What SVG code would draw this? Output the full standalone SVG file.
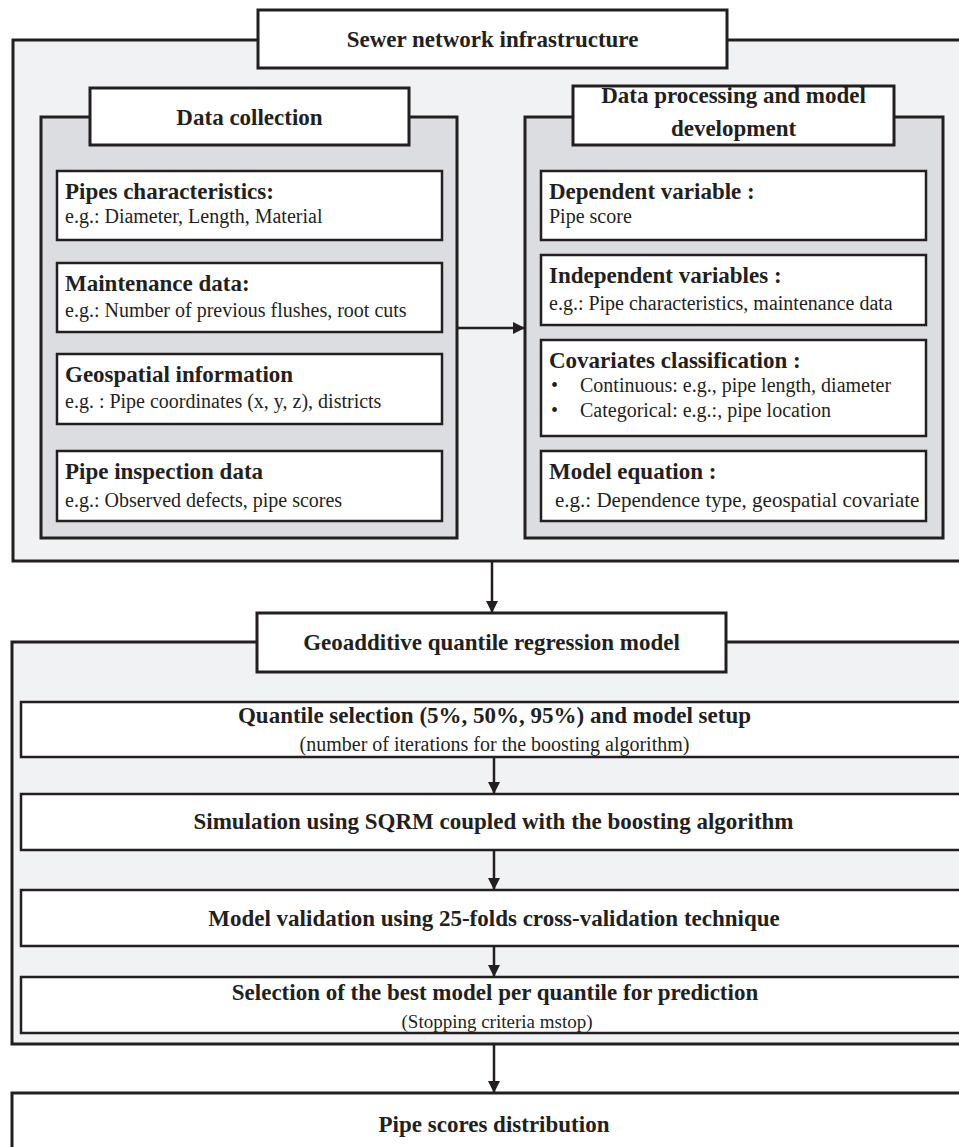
<svg xmlns="http://www.w3.org/2000/svg" width="959" height="1147" viewBox="0 0 959 1147">
<defs>
<style>
.outer{fill:#f1f2f4;stroke:#231f20;stroke-width:3}
.inner{fill:#dcdde0;stroke:#231f20;stroke-width:3}
.box{fill:#ffffff;stroke:#231f20;stroke-width:2.5}
.tbox{fill:#ffffff;stroke:#231f20;stroke-width:3}
text{font-family:"Liberation Serif","Times New Roman",serif;fill:#231f20}
.b{font-weight:bold;font-size:23px}
.r{font-size:20px}
.c{text-anchor:middle}
.conn{stroke:#231f20;stroke-width:2.5;fill:none}
</style>
<marker id="ah" viewBox="0 0 10 10" refX="10" refY="5" markerWidth="12" markerHeight="12" markerUnits="userSpaceOnUse" orient="auto">
<path d="M0,0 L10,5 L0,10 z" fill="#231f20"/>
</marker>
</defs>
<rect width="959" height="1147" fill="#ffffff"/>

<g id="sewer-network">
<rect class="outer" x="13" y="40" width="960" height="521"/>
<rect class="tbox" x="258" y="10" width="469" height="58"/>
<text class="b c" x="492.5" y="47">Sewer network infrastructure</text>
</g>

<g id="data-collection">
<rect class="inner" x="41" y="117" width="416" height="421"/>
<rect class="tbox" x="90" y="88" width="319" height="57"/>
<text class="b c" x="249.5" y="125">Data collection</text>
</g>

<g id="pipes-characteristics">
<rect class="box" x="57" y="171" width="385" height="69"/>
<text class="b" x="65" y="199">Pipes characteristics:</text>
<text class="r" x="65" y="223">e.g.: Diameter, Length, Material</text>
</g>

<g id="maintenance-data">
<rect class="box" x="57" y="263" width="385" height="69"/>
<text class="b" x="65" y="291">Maintenance data:</text>
<text class="r" x="65" y="317">e.g.: Number of previous flushes, root cuts</text>
</g>

<g id="geospatial-information">
<rect class="box" x="57" y="354" width="385" height="70"/>
<text class="b" x="65" y="382">Geospatial information</text>
<text class="r" x="65" y="408">e.g. : Pipe coordinates (x, y, z), districts</text>
</g>

<g id="pipe-inspection-data">
<rect class="box" x="57" y="451" width="385" height="70"/>
<text class="b" x="65" y="479">Pipe inspection data</text>
<text class="r" x="65" y="507">e.g.: Observed defects,  pipe scores</text>
</g>

<g id="data-processing">
<rect class="inner" x="525" y="117" width="418" height="421"/>
<rect class="tbox" x="573" y="86" width="321" height="59"/>
<text class="b c" x="733.5" y="103">Data processing and model</text>
<text class="b c" x="733.5" y="136">development</text>
</g>

<g id="dependent-variable">
<rect class="box" x="541" y="171" width="385" height="69"/>
<text class="b" x="549" y="199">Dependent variable :</text>
<text class="r" x="549" y="223">Pipe score</text>
</g>

<g id="independent-variables">
<rect class="box" x="541" y="255" width="385" height="70"/>
<text class="b" x="549" y="283">Independent variables :</text>
<text class="r" x="549" y="310">e.g.: Pipe characteristics, maintenance data</text>
</g>

<g id="covariates-classification">
<rect class="box" x="541" y="340" width="385" height="96"/>
<text class="b" x="549" y="368">Covariates classification :</text>
<text class="r" x="551" y="392">•</text>
<text class="r" x="580" y="392">Continuous: e.g., pipe length, diameter</text>
<text class="r" x="551" y="417">•</text>
<text class="r" x="580" y="417">Categorical: e.g.:, pipe location</text>
</g>

<g id="model-equation">
<rect class="box" x="541" y="451" width="385" height="70"/>
<text class="b" x="549" y="479">Model equation :</text>
<text class="r" x="555" y="507" style="font-size:21px">e.g.: Dependence type, geospatial covariate</text>
</g>

<g id="geoadditive-model">
<rect class="outer" x="12" y="642" width="960" height="402"/>
<rect class="tbox" x="257" y="613" width="469" height="59"/>
<text class="b c" x="491.5" y="650">Geoadditive quantile regression model</text>
</g>

<g id="quantile-selection">
<rect class="box" x="21" y="702" width="950" height="55"/>
<text class="b c" x="494.5" y="723">Quantile selection (5%, 50%, 95%) and model setup</text>
<text class="r c" x="494.5" y="751">(number of iterations for the boosting algorithm)</text>
</g>

<g id="simulation">
<rect class="box" x="21" y="794" width="950" height="56"/>
<text class="b c" x="493.5" y="829">Simulation using SQRM coupled with the boosting algorithm</text>
</g>

<g id="model-validation">
<rect class="box" x="21" y="890" width="950" height="56"/>
<text class="b c" x="494" y="926">Model validation using 25-folds cross-validation technique</text>
</g>

<g id="best-model-selection">
<rect class="box" x="21" y="977" width="950" height="56"/>
<text class="b c" x="495" y="1000">Selection of the best model per quantile for prediction</text>
<text class="r c" x="497" y="1028" style="font-size:19px">(Stopping criteria mstop)</text>
</g>

<g id="pipe-scores-distribution">
<rect class="tbox" x="12" y="1093" width="960" height="70"/>
<text class="b c" x="494" y="1132">Pipe scores distribution</text>
</g>

<g id="connectors">
<line class="conn" x1="457" y1="328" x2="525" y2="328" marker-end="url(#ah)"/>
<line class="conn" x1="492" y1="562" x2="492" y2="613" marker-end="url(#ah)"/>
<line class="conn" x1="494" y1="757" x2="494" y2="794" marker-end="url(#ah)"/>
<line class="conn" x1="494" y1="850" x2="494" y2="890" marker-end="url(#ah)"/>
<line class="conn" x1="494" y1="946" x2="494" y2="977" marker-end="url(#ah)"/>
<line class="conn" x1="494" y1="1045" x2="494" y2="1093" marker-end="url(#ah)"/>
</g>
</svg>
